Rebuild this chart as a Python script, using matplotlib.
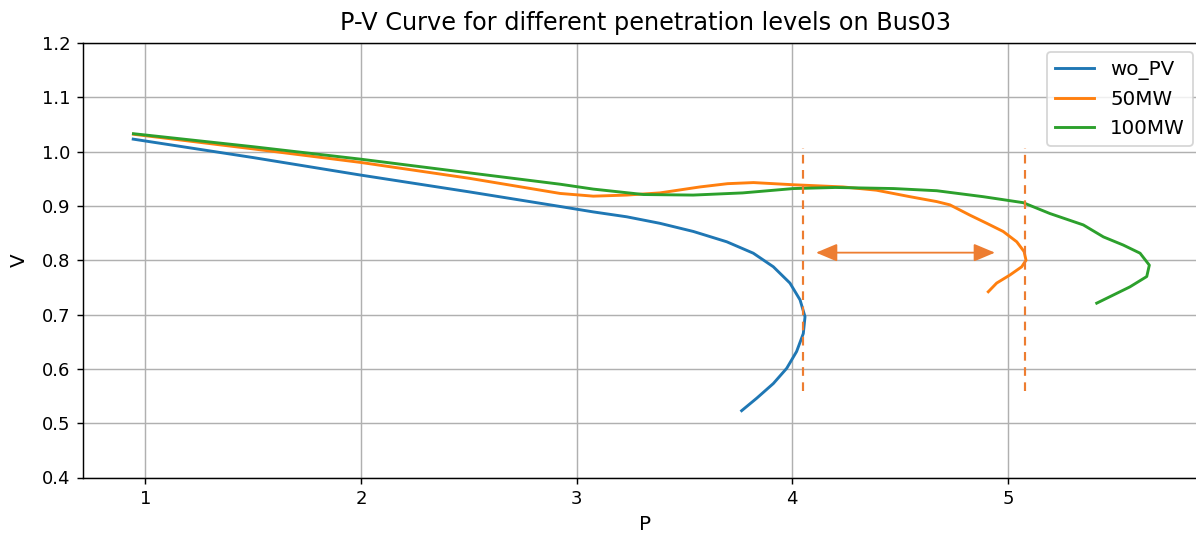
import matplotlib
matplotlib.use("Agg")
import matplotlib.pyplot as plt

# data
wo_pv_p = [0.943, 1.5, 1.995, 2.5, 2.923, 3.077, 3.232, 3.386, 3.541, 3.696, 3.819, 3.912, 3.989,
           4.036, 4.059, 4.051, 4.020, 3.974, 3.912, 3.835, 3.765]
wo_pv_v = [1.023, 0.989, 0.957, 0.926, 0.899, 0.889, 0.880, 0.868, 0.853, 0.834, 0.813, 0.788, 0.758,
           0.727, 0.696, 0.665, 0.632, 0.601, 0.573, 0.546, 0.523]

mw50_p = [0.944, 1.5, 2.0, 2.5, 2.923, 3.077, 3.232, 3.386, 3.572, 3.70, 3.82, 4.005, 4.235, 4.39,
          4.546, 4.67, 4.731, 4.824, 4.902, 4.978, 5.041, 5.075, 5.084, 5.064, 5.01, 4.948, 4.909]
mw50_v = [1.032, 1.005, 0.980, 0.951, 0.923, 0.918, 0.920, 0.924, 0.935, 0.941, 0.943, 0.939, 0.935, 0.929,
          0.917, 0.908, 0.902, 0.883, 0.868, 0.853, 0.834, 0.816, 0.800, 0.788, 0.773, 0.758, 0.742]

mw100_p = [0.944, 1.5, 2.0, 2.5, 2.923, 3.077, 3.31, 3.54, 3.77, 4.005, 4.2, 4.47, 4.67, 4.886, 5.071,
           5.195, 5.35, 5.443, 5.535, 5.613, 5.656, 5.644, 5.566, 5.412]
mw100_v = [1.033, 1.009, 0.986, 0.961, 0.940, 0.931, 0.921, 0.920, 0.924, 0.932, 0.934, 0.932, 0.928, 0.917, 0.906,
           0.886, 0.865, 0.843, 0.828, 0.813, 0.791, 0.770, 0.751, 0.721]

labels = ["wo_PV", "50MW", "100MW"]
limit_p = [4.05, 5.08]
limit_v_range = [0.56, 1.007]
arrow_p = [4.11, 4.94]
arrow_v = 0.814

x_ticks = [1, 2, 3, 4, 5]
y_ticks = [0.4, 0.5, 0.6, 0.7, 0.8, 0.9, 1.0, 1.1, 1.2]

dpi = 130
fig = plt.figure(figsize=(1196 / dpi, 537 / dpi), dpi=dpi)
ax = fig.add_axes([83 / 1196, 1 - 477.5 / 537, 0.94, (477.5 - 43) / 537])

ax.plot(wo_pv_p, wo_pv_v, color="#1f77b4", label=labels[0], lw=1.6)
ax.plot(mw50_p, mw50_v, color="#ff7f0e", label=labels[1], lw=1.6)
ax.plot(mw100_p, mw100_v, color="#2ca02c", label=labels[2], lw=1.6)

acc = "#ED7D31"
for p in limit_p:
    ax.plot([p, p], limit_v_range, color=acc, linestyle=(0, (4, 3)), linewidth=1.2)
ax.annotate("", xy=(arrow_p[1], arrow_v), xytext=(arrow_p[0], arrow_v),
            arrowprops=dict(arrowstyle="<|-|>,head_length=1.0,head_width=0.42",
                            color=acc, lw=1.0, shrinkA=0, shrinkB=0))

ppu = 215.6
x_left = 1 - (145.5 - 83) / ppu
x_right = 1 + (83 + 0.94 * 1196 - 145.5) / ppu
ax.set_xlim(x_left, x_right)
ax.set_ylim(0.4, 1.2)
ax.set_xticks(x_ticks)
ax.set_yticks(y_ticks)
ax.set_yticklabels([f"{t:.1f}" for t in y_ticks])
ax.grid(True)
ax.set_title("P-V Curve for different penetration levels on Bus03", fontsize=13.3, pad=7)
ax.set_xlabel("P", fontsize=11)
ax.set_ylabel("V", fontsize=11, labelpad=7)
ax.legend(loc="upper right", bbox_to_anchor=(1193 / 1196, 1 - 52 / 537),
          bbox_transform=fig.transFigure, borderaxespad=0, fontsize=11)

fig.savefig("out.png", dpi=dpi)
